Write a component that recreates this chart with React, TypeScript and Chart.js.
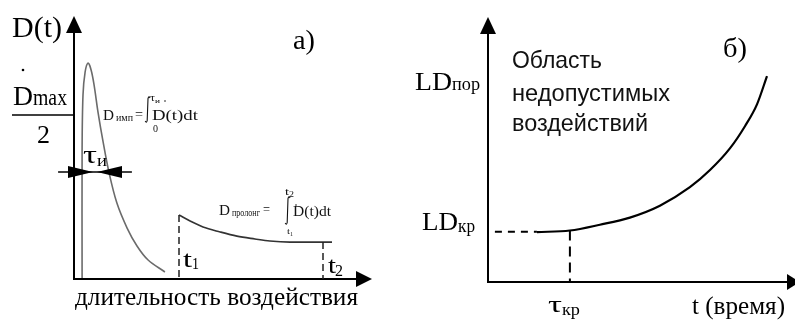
import React, { useEffect, useRef } from "react";
import { Chart, registerables } from "chart.js";

Chart.register(...registerables);

// ---- Panel a) : dose rate D(t) vs. exposure duration ----
const pulseT = [0.27, 0.27, 0.3, 0.37, 0.47, 0.57, 0.67, 0.8, 0.97, 1.17, 1.43, 1.77, 2.1, 2.47, 3.03];
const pulseD = [0, 4.96, 7.08, 7.96, 8.31, 8.04, 7.46, 6.42, 5.27, 4.08, 2.92, 1.96, 1.27, 0.73, 0.27];
const prolongT = [3.5, 3.87, 4.3, 4.87, 5.43, 6.03, 6.53, 7.2, 7.63, 8.6];
const prolongD = [2.46, 2.23, 2.0, 1.81, 1.65, 1.54, 1.46, 1.42, 1.42, 1.42];
const t1 = 3.5;
const t2 = 8.3;
const halfMaxLevel = 4.12;
const tauStart = -0.53;
const tauEnd = 1.93;

// ---- Panel б) : threshold lethal dose vs. time ----
const ldT = [1.63, 2.73, 3.73, 4.73, 5.73, 6.73, 7.4, 8.07, 8.57, 8.97, 9.3];
const ldV = [1.89, 1.95, 2.17, 2.44, 2.89, 3.59, 4.24, 5.07, 5.91, 6.74, 7.8];
const tauKr = 2.73;
const ldKr = 1.9;
const ldDashStart = 0.23;
const ldDashEnd = 1.63;

const SERIF = "'Liberation Serif', 'Times New Roman', serif";
const SANS = "'Liberation Sans', Arial, sans-serif";

function txt(ctx: CanvasRenderingContext2D, s: string, x: number, y: number, size: number, family: string, w?: number) {
  ctx.font = `${size}px ${family}`;
  ctx.textBaseline = "alphabetic";
  ctx.textAlign = "left";
  if (w) {
    const m = ctx.measureText(s).width;
    ctx.save();
    ctx.translate(x, y);
    ctx.scale(w / m, 1);
    ctx.fillText(s, 0, 0);
    ctx.restore();
  } else {
    ctx.fillText(s, x, y);
  }
}

function tri(ctx: CanvasRenderingContext2D, pts: number[][]) {
  ctx.beginPath();
  ctx.moveTo(pts[0][0], pts[0][1]);
  for (let i = 1; i < pts.length; i++) ctx.lineTo(pts[i][0], pts[i][1]);
  ctx.closePath();
  ctx.fill();
}

function line(ctx: CanvasRenderingContext2D, x1: number, y1: number, x2: number, y2: number, w: number, dash: number[] = []) {
  ctx.save();
  ctx.lineWidth = w;
  ctx.setLineDash(dash);
  ctx.beginPath();
  ctx.moveTo(x1, y1);
  ctx.lineTo(x2, y2);
  ctx.stroke();
  ctx.restore();
}

function integral(ctx: CanvasRenderingContext2D, x: number, top: number, bottom: number) {
  ctx.save();
  ctx.lineWidth = 1.1;
  ctx.strokeStyle = "#111";
  ctx.beginPath();
  ctx.moveTo(x + 5, top + 2);
  ctx.quadraticCurveTo(x + 4, top - 0.5, x + 3, top + 2.5);
  ctx.lineTo(x + 2.2, bottom - 2.5);
  ctx.quadraticCurveTo(x + 1.5, bottom + 0.5, x + 0.2, bottom - 2);
  ctx.stroke();
  ctx.restore();
}

const leftDecor = {
  id: "leftDecor",
  afterDatasetsDraw(chart: any) {
    const { ctx, chartArea, scales } = chart;
    const { left, bottom } = chartArea;
    const x = scales.x;
    const y = scales.y;
    ctx.save();
    ctx.fillStyle = "#000";
    ctx.strokeStyle = "#000";
    // axes
    line(ctx, left, bottom + 1, left, 30, 2);
    tri(ctx, [[left, 16], [left - 8, 33], [left + 8, 33]]);
    line(ctx, left - 1, bottom, 360, bottom, 2);
    tri(ctx, [[372, bottom], [356, bottom - 8], [356, bottom + 8]]);
    // dashed markers t1, t2
    ctx.strokeStyle = "#222";
    line(ctx, x.getPixelForValue(t1), y.getPixelForValue(prolongD[0]), x.getPixelForValue(t1), bottom, 1.5, [7, 4]);
    line(ctx, x.getPixelForValue(t2), y.getPixelForValue(prolongD[prolongD.length - 1]), x.getPixelForValue(t2), bottom, 1.5, [7, 4]);
    // tau arrows
    ctx.strokeStyle = "#000";
    const ty = y.getPixelForValue(halfMaxLevel);
    line(ctx, x.getPixelForValue(tauStart), ty, x.getPixelForValue(tauEnd), ty, 1.5);
    tri(ctx, [[93, ty], [68, ty - 6], [68, ty + 6]]);
    tri(ctx, [[97, ty], [122, ty - 6], [122, ty + 6]]);
    // labels
    txt(ctx, "D(t)", 12, 37, 29, SERIF, 50);
    txt(ctx, "а)", 293, 49, 27, SERIF, 22);
    ctx.beginPath(); ctx.arc(23, 70, 1.3, 0, Math.PI * 2); ctx.fill();
    txt(ctx, "D", 13, 105, 28, SERIF, 20);
    txt(ctx, "max", 33, 105, 24, SERIF, 34);
    line(ctx, 12, 115, left, 115, 1.5);
    txt(ctx, "2", 37, 143, 25, SERIF, 13);
    txt(ctx, "τ", 83, 163, 26, SERIF, 14);
    txt(ctx, "и", 97, 166, 17, SERIF, 10);
    // D_imp formula
    ctx.fillStyle = "#111";
    txt(ctx, "D", 103, 120, 15, SERIF, 11);
    txt(ctx, "имп", 116, 121, 10, SERIF, 17);
    txt(ctx, "=", 135, 119, 14, SERIF, 8);
    integral(ctx, 145, 96, 123);
    txt(ctx, "τ", 150, 101, 10, SERIF, 5);
    txt(ctx, "и", 155, 103, 7, SERIF, 5);
    txt(ctx, "0", 153, 132, 10, SERIF, 5);
    ctx.beginPath(); ctx.arc(165, 101, 0.8, 0, Math.PI * 2); ctx.fill();
    txt(ctx, "D(t)dt", 152, 120, 15, SERIF, 46);
    // D_prolong formula
    txt(ctx, "D", 219, 215, 14, SERIF, 11);
    txt(ctx, "пролонг", 232, 216, 10, SERIF, 28);
    txt(ctx, "=", 263, 214, 14, SERIF, 7);
    integral(ctx, 285, 196, 225);
    txt(ctx, "t", 285, 195, 10, SERIF, 4);
    txt(ctx, "2", 289, 197, 8, SERIF, 5);
    txt(ctx, "t", 287, 234, 9, SERIF, 3);
    txt(ctx, "1", 290, 236, 7, SERIF, 3);
    ctx.beginPath(); ctx.arc(296, 205, 0.8, 0, Math.PI * 2); ctx.fill();
    txt(ctx, "D(t)dt", 293, 216, 14, SERIF, 38);
    // t1 / t2
    ctx.fillStyle = "#000";
    txt(ctx, "t", x.getPixelForValue(t1) + 4, 267, 24, SERIF, 9);
    txt(ctx, "1", x.getPixelForValue(t1) + 13, 269, 16, SERIF, 7);
    txt(ctx, "t", x.getPixelForValue(t2) + 5, 273, 24, SERIF, 8);
    txt(ctx, "2", x.getPixelForValue(t2) + 12, 276, 16, SERIF, 8);
    // x label
    txt(ctx, "длительность воздействия", 75, 305, 25, SERIF, 283);
    ctx.restore();
  },
};

const rightDecor = {
  id: "rightDecor",
  afterDatasetsDraw(chart: any) {
    const { ctx, chartArea, scales } = chart;
    const { left, bottom } = chartArea;
    const x = scales.x;
    const y = scales.y;
    const ox = 400; // canvas offset in page
    ctx.save();
    ctx.fillStyle = "#000";
    ctx.strokeStyle = "#000";
    // axes
    line(ctx, left, bottom + 1, left, 30, 2);
    tri(ctx, [[left, 17], [left - 8, 34], [left + 8, 34]]);
    line(ctx, left - 1, bottom, 790 - ox, bottom, 2);
    tri(ctx, [[800 - ox, bottom], [787 - ox, bottom - 8], [787 - ox, bottom + 8]]);
    // dashed guides
    const ky = y.getPixelForValue(ldKr);
    line(ctx, x.getPixelForValue(ldDashStart), ky, x.getPixelForValue(ldDashEnd), ky, 2, [7, 6]);
    line(ctx, x.getPixelForValue(tauKr), y.getPixelForValue(ldV[1]), x.getPixelForValue(tauKr), bottom, 2, [10, 6]);
    // labels
    txt(ctx, "LD", 415 - ox, 90, 26, SERIF, 37);
    txt(ctx, "пор", 452 - ox, 90, 18, SERIF, 28);
    txt(ctx, "LD", 422 - ox, 230, 26, SERIF, 36);
    txt(ctx, "кр", 458 - ox, 232, 18, SERIF, 17);
    ctx.fillStyle = "#111";
    txt(ctx, "Область", 512 - ox, 68, 24, SANS, 90);
    txt(ctx, "недопустимых", 512 - ox, 101, 24, SANS, 158);
    txt(ctx, "воздействий", 512 - ox, 131, 24, SANS, 136);
    ctx.fillStyle = "#000";
    txt(ctx, "б)", 723 - ox, 57, 27, SERIF, 24);
    txt(ctx, "τ", 548 - ox, 312, 24, SERIF, 14);
    txt(ctx, "кр", 562 - ox, 315, 16, SERIF, 18);
    txt(ctx, "t (время)", 692 - ox, 314, 25, SERIF, 93);
    ctx.restore();
  },
};

function pts(xs: number[], ys: number[]) {
  return xs.map((v, i) => ({ x: v, y: ys[i] }));
}

function baseOptions(padding: any) {
  return {
    responsive: false,
    animation: false as const,
    devicePixelRatio: 1,
    layout: { padding },
    plugins: { legend: { display: false }, tooltip: { enabled: false } },
    scales: {
      x: { type: "linear" as const, min: 0, max: 10, display: false },
      y: { type: "linear" as const, min: 0, max: 10, display: false },
    },
    elements: { point: { radius: 0 } },
  };
}

export default function App() {
  const leftRef = useRef<HTMLCanvasElement>(null);
  const rightRef = useRef<HTMLCanvasElement>(null);

  useEffect(() => {
    const left = new Chart(leftRef.current!, {
      type: "scatter",
      data: {
        datasets: [
          {
            data: pts(pulseT, pulseD),
            showLine: true,
            borderColor: "#6b6b6b",
            borderWidth: 1.6,
            tension: 0.35,
            pointRadius: 0,
            clip: false,
          },
          {
            data: pts(prolongT, prolongD),
            showLine: true,
            borderColor: "#333",
            borderWidth: 1.6,
            cubicInterpolationMode: "monotone",
            pointRadius: 0,
            clip: false,
          },
        ],
      },
      options: baseOptions({ left: 74, right: 26, top: 19, bottom: 43 }) as any,
      plugins: [leftDecor],
    });
    const right = new Chart(rightRef.current!, {
      type: "scatter",
      data: {
        datasets: [
          {
            data: pts(ldT, ldV),
            showLine: true,
            borderColor: "#000",
            borderWidth: 2.2,
            cubicInterpolationMode: "monotone",
            pointRadius: 0,
            clip: false,
          },
        ],
      },
      options: baseOptions({ left: 88, right: 7, top: 18, bottom: 40 }) as any,
      plugins: [rightDecor],
    });
    return () => {
      left.destroy();
      right.destroy();
    };
  }, []);

  return (
    <div style={{ position: "fixed", left: 0, top: 0, width: 795, height: 322, background: "#fff", overflow: "hidden" }}>
      <canvas ref={leftRef} width={400} height={322} style={{ position: "absolute", left: 0, top: 0, width: 400, height: 322 }} />
      <canvas ref={rightRef} width={395} height={322} style={{ position: "absolute", left: 400, top: 0, width: 395, height: 322 }} />
    </div>
  );
}
